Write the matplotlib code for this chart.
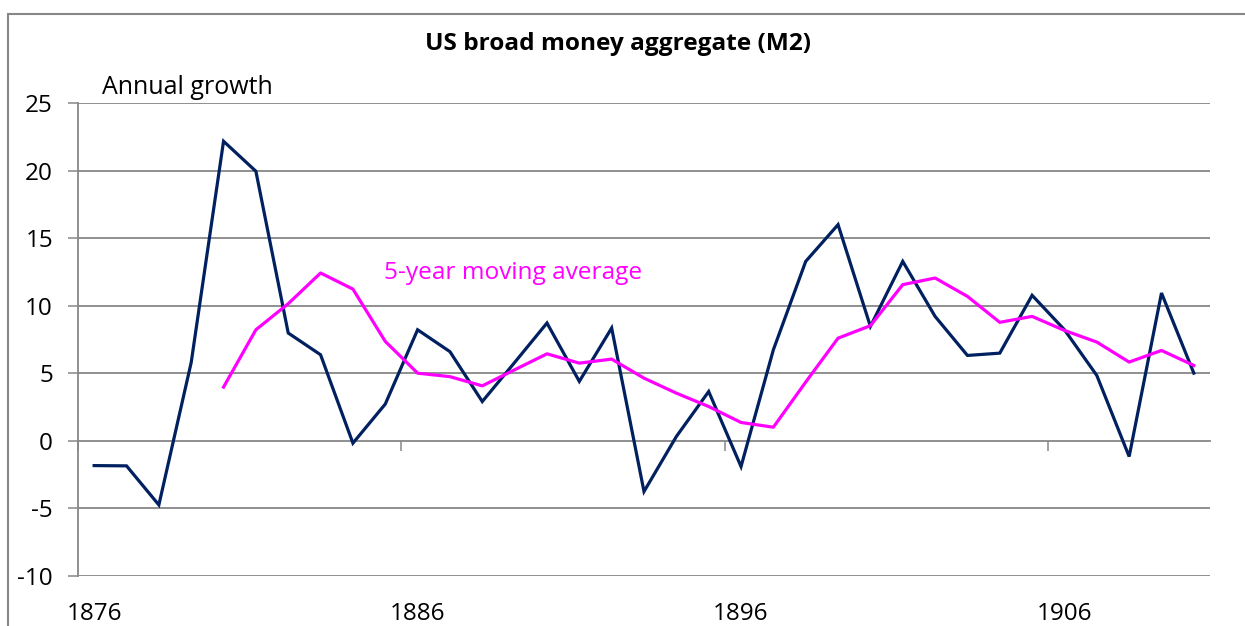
import numpy as np
import matplotlib
matplotlib.use("Agg")
import matplotlib.pyplot as plt
from matplotlib.patches import Rectangle

years = list(range(1876, 1911))
annual_growth = [-1.83, -1.85, -4.74, 5.8, 22.17, 19.95, 7.98, 6.37, -0.17, 2.72,
                 8.22, 6.6, 2.91, 5.8, 8.72, 4.4, 8.35, -3.75, 0.32, 3.65,
                 -1.9, 6.74, 13.28, 16.0, 8.47, 13.28, 9.21, 6.32, 6.49, 10.77,
                 8.22, 4.84, -1.16, 10.94, 5.01]
moving_avg = [np.nan, np.nan, np.nan, np.nan, 3.98, 8.22, 10.15, 12.42, 11.23, 7.36,
              5.01, 4.75, 4.07, 5.26, 6.44, 5.75, 6.05, 4.64, 3.53, 2.54,
              1.36, 1.01, 4.35, 7.6, 8.52, 11.56, 12.05, 10.69, 8.77, 9.21,
              8.17, 7.31, 5.83, 6.69, 5.58]
label_years = [1876, 1886, 1896, 1906]
y_ticks = [-10, -5, 0, 5, 10, 15, 20, 25]

title = "US broad money aggregate (M2)"
series_label = "Annual growth"
ma_label = "5-year moving average"

FONT = ["Open Sans", "DejaVu Sans"]
plt.rcParams['font.family'] = FONT
GRID = "#878787"
NAVY = "#002060"
MAGENTA = "#FF00FF"

W, H = 1245, 626
fig = plt.figure(figsize=(W / 100, H / 100), dpi=100)
ax = fig.add_axes([78 / W, 1 - 576 / H, (1210 - 78) / W, (576 - 103) / H])

ax.plot(years, annual_growth, color=NAVY, lw=2.3, solid_joinstyle='miter', zorder=3)
ax.plot(years, moving_avg, color=MAGENTA, lw=2.3, zorder=4)

ax.set_xlim(years[0] - 0.5, years[-1] + 0.5)
ax.set_ylim(y_ticks[0], y_ticks[-1])
ax.set_yticks(y_ticks)
ax.set_yticklabels([str(v) for v in y_ticks])
ax.tick_params(axis='y', length=7, width=1.1, color=GRID, labelsize=17.5, pad=11)
for v in y_ticks:
    if v != 0:
        ax.axhline(v, color=GRID, lw=1.3, zorder=1)

for s in ['top', 'right']:
    ax.spines[s].set_visible(False)
ax.spines['left'].set_color(GRID)
ax.spines['left'].set_linewidth(1.3)
ax.spines['bottom'].set_position(('data', 0))
ax.spines['bottom'].set_color(GRID)
ax.spines['bottom'].set_linewidth(1.3)
ax.set_xticks([y - 0.5 for y in label_years[1:]] + [years[0] - 0.5])
ax.set_xticklabels([])
ax.tick_params(axis='x', length=7, width=1.1, color=GRID, direction='out')

sec = ax.secondary_xaxis(0.0)
sec.set_xticks(label_years)
sec.set_xticklabels([str(y) for y in label_years])
sec.tick_params(axis='x', length=0, labelsize=17.5, pad=19)
sec.spines['bottom'].set_visible(False)

ax.text(1876.25, 25.2, series_label, fontsize=18, va='bottom', ha='left')
ax.text(1884.95, 12.45, ma_label, fontsize=17.6, color=MAGENTA, va='center', ha='left')
fig.text(618 / W, 1 - 44 / H, title, fontsize=17.6, fontweight='bold', ha='center', va='center')

fig.add_artist(Rectangle((8 / W, -0.2), 1.5, 1 - 14 / H + 0.2, transform=fig.transFigure,
                         fill=False, edgecolor=GRID, lw=1.5, clip_on=False))

fig.savefig("out.png", dpi=100)
